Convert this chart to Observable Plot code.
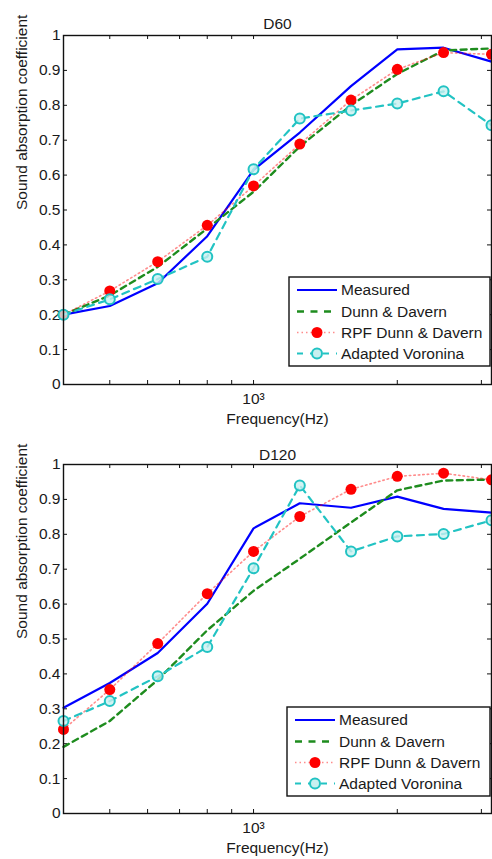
<!DOCTYPE html>
<html><head><meta charset="utf-8">
<script src="https://cdn.jsdelivr.net/npm/d3@7"></script>
<script src="https://cdn.jsdelivr.net/npm/@observablehq/plot@0.6"></script>
<style>
body{margin:0;background:#fff;}
#chart svg{display:block;}
</style></head><body><div id="chart"></div>
<script>
// Frequencies (Hz), 1/3-octave bands
const freq = [400, 500, 630, 800, 1000, 1250, 1600, 2000, 2500, 3150];

// D60
const measured60  = [0.200, 0.225, 0.290, 0.425, 0.615, 0.722, 0.855, 0.960, 0.965, 0.925];
const dunn60      = [0.200, 0.255, 0.337, 0.447, 0.552, 0.682, 0.800, 0.890, 0.957, 0.963];
const rpf60       = [0.200, 0.268, 0.352, 0.456, 0.569, 0.689, 0.815, 0.903, 0.951, 0.946];
const voronina60  = [0.200, 0.244, 0.302, 0.366, 0.617, 0.762, 0.785, 0.805, 0.840, 0.743];

// D120
const measured120 = [0.303, 0.374, 0.460, 0.601, 0.817, 0.889, 0.876, 0.908, 0.873, 0.862];
const dunn120     = [0.191, 0.265, 0.383, 0.525, 0.638, 0.730, 0.834, 0.926, 0.954, 0.957];
const rpf120      = [0.241, 0.355, 0.487, 0.630, 0.751, 0.851, 0.929, 0.966, 0.975, 0.956];
const voronina120 = [0.265, 0.322, 0.393, 0.477, 0.703, 0.940, 0.751, 0.794, 0.801, 0.840];

const seriesNames = ["Measured", "Dunn & Davern", "RPF Dunn & Davern", "Adapted Voronina"];
const panelTitles = ["D60", "D120"];
const yTicks = [0, 0.1, 0.2, 0.3, 0.4, 0.5, 0.6, 0.7, 0.8, 0.9, 1];
const xMinorTicks = [500, 600, 700, 800, 900, 1000, 2000, 3000];
const xLabelTicks = [1000];
const xLabel = "Frequency(Hz)";
const yLabel = "Sound absorption coefficient";

const FONT = "Liberation Sans, Arial, Helvetica, sans-serif";
const FS = 15.5;
const TXT = "#1a1a1a";
const COL = {
  blue: "#0000ff",
  green: "#1e8c1e",
  red: "#ff0000",
  cyan: "#22c3c3"
};

function rows(series) {
  return freq.map((f, i) => ({f, v: series[i]}));
}

function panel(title, s, opts) {
  const {height, marginTop, marginBottom, titleDy, legendX} = opts;
  const W = 492, ML = 63, MR = 1;
  const ph = height - marginTop - marginBottom;
  const pw = W - ML - MR;
  const [mData, dData, rData, vData] = s.map(rows);
  const svg = Plot.plot({
    width: W, height, marginLeft: ML, marginRight: MR, marginTop, marginBottom,
    style: {fontFamily: FONT, fontSize: FS + "px", color: TXT, background: "#fff"},
    x: {type: "log", domain: [400, 3150]},
    y: {domain: [0, 1]},
    marks: [
      // inward ticks
      Plot.tickY(yTicks, {y: d => d, insetRight: pw - 4, stroke: "#111", strokeWidth: 1}),
      Plot.tickY(yTicks, {y: d => d, insetLeft: pw - 4, stroke: "#111", strokeWidth: 1}),
      Plot.tickX(xMinorTicks, {x: d => d, insetTop: ph - 4, stroke: "#111", strokeWidth: 1}),
      Plot.tickX(xMinorTicks, {x: d => d, insetBottom: ph - 4, stroke: "#111", strokeWidth: 1}),
      Plot.axisY({ticks: yTicks, tickSize: 0, tickPadding: 3, tickFormat: d => String(+d.toFixed(1)), label: null, fill: TXT}),
      Plot.axisX({ticks: xLabelTicks, tickSize: 0, tickPadding: 8, tickFormat: () => "10³", label: null, fill: TXT}),
      // series
      Plot.line(mData, {x: "f", y: "v", stroke: COL.blue, strokeWidth: 2.2}),
      Plot.line(dData, {x: "f", y: "v", stroke: COL.green, strokeWidth: 2.4, strokeDasharray: "6,4.5"}),
      Plot.line(rData, {x: "f", y: "v", stroke: COL.red, strokeOpacity: 0.45, strokeWidth: 1.6, strokeDasharray: "1.5,3"}),
      Plot.dot(rData, {x: "f", y: "v", r: 5.5, fill: COL.red, stroke: "none"}),
      Plot.line(vData, {x: "f", y: "v", stroke: COL.cyan, strokeWidth: 2.2, strokeDasharray: "7,5.5"}),
      Plot.dot(vData, {x: "f", y: "v", r: 5, fill: "#c8f0f0", fillOpacity: 0.8, stroke: COL.cyan, strokeWidth: 2}),
      Plot.frame({stroke: "#111", strokeWidth: 1.4}),
      // texts
      Plot.text([title], {frameAnchor: "top", dy: titleDy, text: d => d, fill: TXT, fontSize: FS}),
      Plot.text([xLabel], {frameAnchor: "bottom", dy: 39, text: d => d, fill: TXT, fontSize: FS}),
      Plot.text([yLabel], {frameAnchor: "left", dx: -41, rotate: -90, text: d => d, fill: TXT, fontSize: FS})
    ]
  });

  // Legend box inside the plot area
  const g = d3.select(svg).append("g")
    .attr("font-family", FONT).attr("font-size", FS).attr("text-anchor", "start");
  const bx = legendX, by = 277, bw = 490 - legendX, bh = 89;
  g.append("rect").attr("x", bx).attr("y", by).attr("width", bw).attr("height", bh)
    .attr("fill", "#fff").attr("stroke", "#111").attr("stroke-width", 1.4);
  const rowY = [290, 311.5, 332.5, 353.5];
  const lx1 = bx + 8, lx2 = bx + 48, mx = bx + 28, tx = bx + 52;
  seriesNames.forEach((name, i) => {
    const y = rowY[i];
    const ln = g.append("line").attr("x1", lx1).attr("x2", lx2).attr("y1", y).attr("y2", y);
    if (i === 0) ln.attr("stroke", COL.blue).attr("stroke-width", 2.2);
    if (i === 1) ln.attr("stroke", COL.green).attr("stroke-width", 2.4).attr("stroke-dasharray", "7,6.5");
    if (i === 2) {
      ln.attr("stroke", COL.red).attr("stroke-opacity", 0.45).attr("stroke-width", 1.6).attr("stroke-dasharray", "1.5,3");
      g.append("circle").attr("cx", mx).attr("cy", y).attr("r", 5.5).attr("fill", COL.red);
    }
    if (i === 3) {
      ln.attr("stroke", COL.cyan).attr("stroke-width", 2.2).attr("stroke-dasharray", "6,7");
      g.append("circle").attr("cx", mx).attr("cy", y).attr("r", 5).attr("fill", "#c8f0f0").attr("stroke", COL.cyan).attr("stroke-width", 2);
    }
    g.append("text").attr("x", tx).attr("y", y).attr("dy", "0.35em").attr("fill", TXT).text(name);
  });
  return svg;
}

const root = document.getElementById("chart");
root.appendChild(panel(panelTitles[0], [measured60, dunn60, rpf60, voronina60],
  {height: 430, marginTop: 35, marginBottom: 46, titleDy: -18, legendX: 289}));
root.appendChild(panel(panelTitles[1], [measured120, dunn120, rpf120, voronina120],
  {height: 429, marginTop: 34, marginBottom: 46, titleDy: -16, legendX: 287}));
</script></body></html>
